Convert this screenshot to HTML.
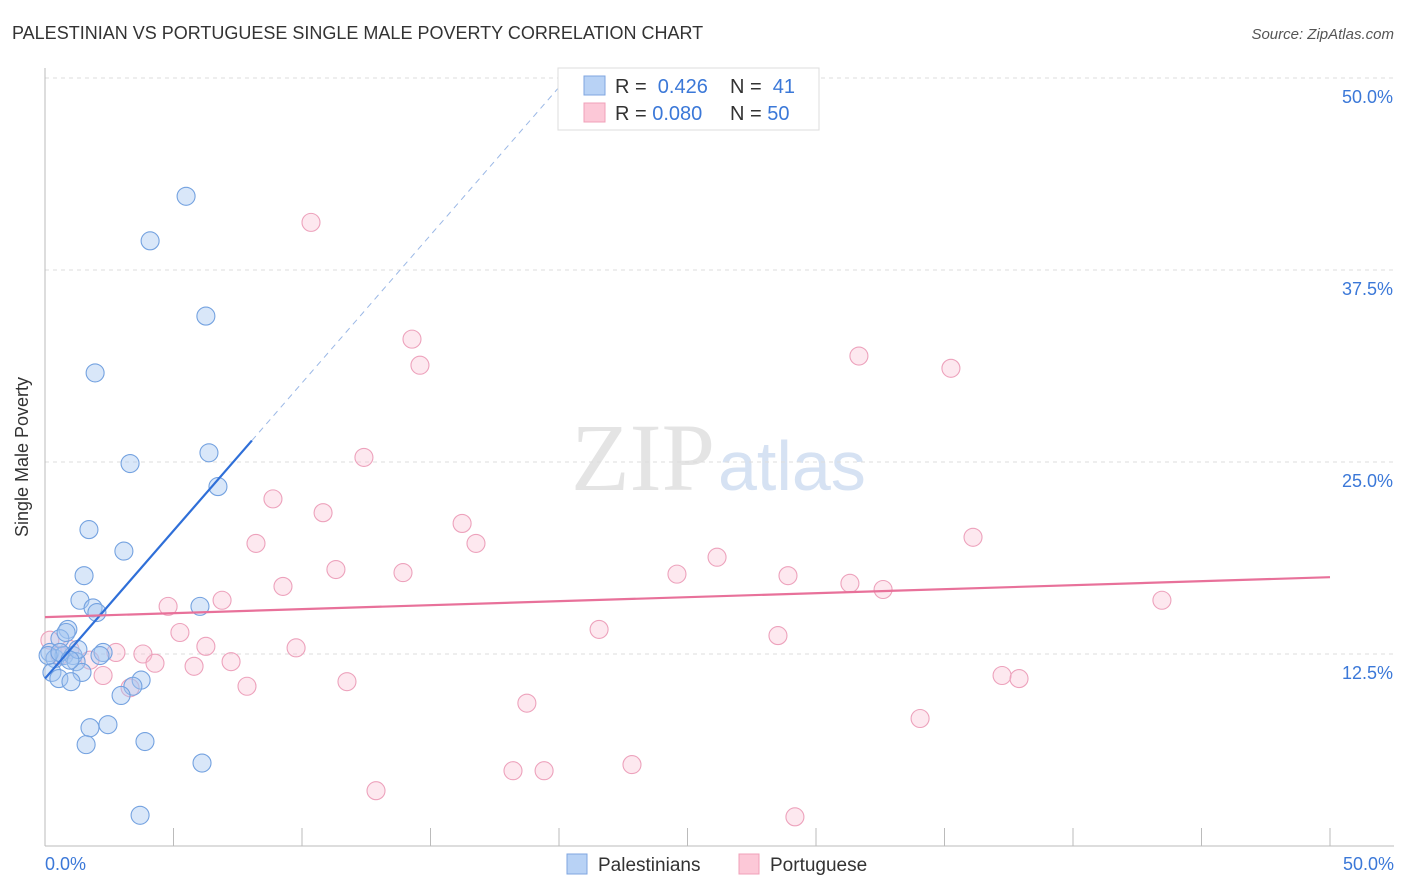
<!DOCTYPE html>
<html><head><meta charset="utf-8"><style>
body{margin:0;background:#fff;font-family:"Liberation Sans",sans-serif;}
svg{display:block}
</style></head><body>
<svg width="1406" height="892" viewBox="0 0 1406 892">
<text x="12" y="39" font-size="18" fill="#333">PALESTINIAN VS PORTUGUESE SINGLE MALE POVERTY CORRELATION CHART</text>
<text x="1394" y="39" font-size="15" fill="#555" font-style="italic" text-anchor="end">Source: ZipAtlas.com</text>
<text x="715" y="490" font-size="96" fill="#e4e4e4" text-anchor="end" font-family="Liberation Serif,serif">ZIP</text>
<text x="718" y="490" font-size="70" fill="#d6e2f3">atlas</text>
<g id="grid"></g>
<g id="axes"></g>
<text x="28" y="457" font-size="18" fill="#333" text-anchor="middle" transform="rotate(-90 28 457)">Single Male Poverty</text>
<g id="marks"></g>
<g>
<rect x="558" y="68" width="261" height="62" fill="#fff" stroke="#ddd"/>
<rect x="584" y="76" width="21" height="19" fill="#b8d2f5" stroke="#7fa6e0"/>
<rect x="584" y="103" width="21" height="19" fill="#fcc8d7" stroke="#f0a0b8"/>
<text x="615" y="93" font-size="20" fill="#333">R = <tspan fill="#3b78d8">&#160;0.426</tspan><tspan x="730">N = </tspan><tspan fill="#3b78d8">&#160;41</tspan></text>
<text x="615" y="120" font-size="20" fill="#333">R = <tspan fill="#3b78d8">0.080</tspan><tspan x="730">N = </tspan><tspan fill="#3b78d8">50</tspan></text>
</g>
<g>
<rect x="567" y="854" width="20" height="20" fill="#b8d2f5" stroke="#7fa6e0"/>
<text x="598" y="871" font-size="19" fill="#333">Palestinians</text>
<rect x="739" y="854" width="20" height="20" fill="#fcc8d7" stroke="#f0a0b8"/>
<text x="770" y="871" font-size="19" fill="#333">Portuguese</text>
</g>
</svg>
<script>
const blueX=[5.49,4.09,6.26,1.95,6.38,3.31,6.73,1.71,3.07,1.52,1.36,6.03,1.87,2.02,0.89,0.58,0.82,0.19,0.39,0.74,1.09,2.26,1.21,1.44,0.27,0.54,1.01,3.74,3.42,2.96,2.45,1.75,1.60,3.89,6.11,3.70,0.12,0.58,1.28,0.97,2.14];
const blueY=[42.3,39.4,34.5,30.8,25.6,24.9,23.4,20.6,19.2,17.6,16.0,15.6,15.5,15.2,14.1,13.5,13.9,12.6,12.2,12.4,12.4,12.6,12.0,11.3,11.3,10.9,10.7,10.8,10.4,9.8,7.9,7.7,6.6,6.8,5.4,2.0,12.4,12.6,12.8,12.1,12.4];
const pinkX=[10.35,14.28,14.59,31.67,35.25,12.41,8.87,10.82,16.23,16.77,8.21,36.11,26.15,11.32,13.93,24.59,28.91,9.26,31.32,32.61,43.46,6.89,4.79,21.56,5.25,28.52,6.26,9.77,2.76,3.81,4.28,7.24,5.80,2.26,3.31,7.86,11.75,37.24,37.90,18.75,34.05,22.84,18.21,19.42,12.88,29.18,0.19,1.75,0.97,0.58];
const pinkY=[40.6,33.0,31.3,31.9,31.1,25.3,22.6,21.7,21.0,19.7,19.7,20.1,18.8,18.0,17.8,17.7,17.6,16.9,17.1,16.7,16.0,16.0,15.6,14.1,13.9,13.7,13.0,12.9,12.6,12.5,11.9,12.0,11.7,11.1,10.3,10.4,10.7,11.1,10.9,9.3,8.3,5.3,4.9,4.9,3.6,1.9,13.4,12.1,12.8,12.4];
const yTicks=[12.5,25.0,37.5,50.0];
const blueTrend=[10.9,1.925];
const pinkTrend=[14.9,17.5];
const NS="http://www.w3.org/2000/svg";
const sx=v=>45+v/50*1285, sy=v=>846-v/50*768;
function mk(tag,attrs,parent){const e=document.createElementNS(NS,tag);for(const k in attrs)e.setAttribute(k,attrs[k]);parent.appendChild(e);return e;}
const grid=document.getElementById('grid'),axes=document.getElementById('axes'),marks=document.getElementById('marks');
yTicks.forEach(t=>{
 const l=mk('line',{x1:45,x2:1394,y1:sy(t),y2:sy(t),stroke:'#ddd','stroke-dasharray':'4,4'},grid);
 
 
 const tx=mk('text',{x:1393,y:sy(t)+25,'font-size':18,fill:'#3b78d8','text-anchor':'end'},grid);
 tx.textContent=t.toFixed(1)+'%';
 
 
});
const ya=mk('line',{x1:45,x2:45,y1:68,y2:846,stroke:'#bbb'},axes);


const xa=mk('line',{x1:45,x2:1394,y1:846,y2:846,stroke:'#bbb'},axes);


for(let i=0;i<=10;i++){const t=mk('line',{x1:sx(i*5),x2:sx(i*5),y1:828,y2:846,stroke:'#bbb'},axes);
 
 }
[[0,'start',45],[50,'end',1394]].forEach(([v,a,x])=>{const t=mk('text',{x:x,y:870,'font-size':18,fill:'#3b78d8','text-anchor':a},axes);t.textContent=v.toFixed(1)+'%';
 
 });
pinkX.forEach((x,i)=>{const c=mk('circle',{cx:sx(x),cy:sy(pinkY[i]),r:9,fill:'rgba(248,190,210,0.35)',stroke:'#eda2bc','stroke-width':1.1},marks);
 
 });
blueX.forEach((x,i)=>{const c=mk('circle',{cx:sx(x),cy:sy(blueY[i]),r:9,fill:'rgba(165,198,240,0.42)',stroke:'#74a2e0','stroke-width':1.1},marks);
 
 });
const bEnd=(50-blueTrend[0])/blueTrend[1];
const bl=mk('line',{x1:sx(0),y1:sy(blueTrend[0]),x2:sx(8.05),y2:sy(blueTrend[0]+blueTrend[1]*8.05),stroke:'#2f6fd8','stroke-width':2.2},marks);


const bd=mk('line',{x1:sx(8.05),y1:sy(blueTrend[0]+blueTrend[1]*8.05),x2:sx(bEnd),y2:sy(50),stroke:'#9bb8e6','stroke-width':1,'stroke-dasharray':'6,5'},marks);


const pl=mk('line',{x1:sx(0),y1:sy(pinkTrend[0]),x2:sx(50),y2:sy(pinkTrend[1]),stroke:'#e8719a','stroke-width':2.2},marks);


</script>
</body></html>
